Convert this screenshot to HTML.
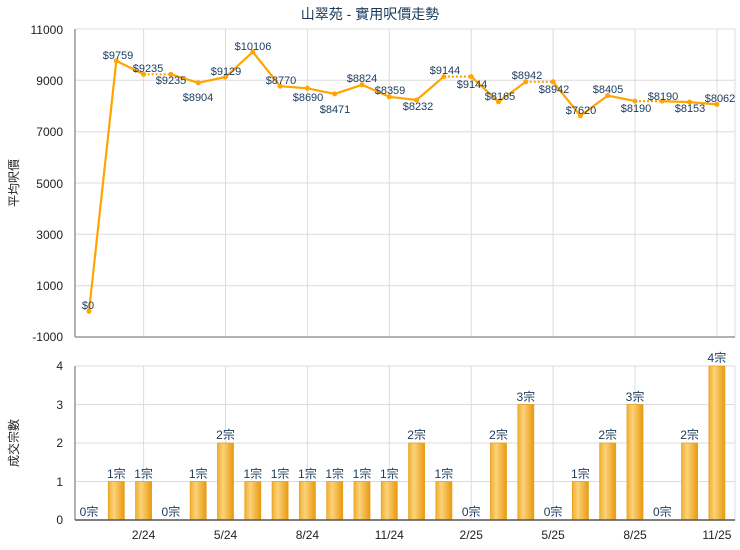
<!DOCTYPE html>
<html><head><meta charset="utf-8"><style>
body{margin:0;background:#fff}
svg{display:block;font-family:"Liberation Sans","Noto Sans CJK TC",sans-serif}
.g{stroke:#dcdcdc;stroke-width:1}
.t{font-size:12px;fill:#222}
.l{font-size:11px;fill:#1a3a5c;text-anchor:middle}
.b{font-size:12px;fill:#1a3a5c;text-anchor:middle}
</style></head><body>
<svg width="740" height="550" viewBox="0 0 740 550">
<defs>
<linearGradient id="bg" x1="0" x2="1" y1="0" y2="0">
<stop offset="0" stop-color="#f0b030"/><stop offset="0.35" stop-color="#fcd27a"/><stop offset="1" stop-color="#e89a10"/>
</linearGradient>
</defs>
<text x="370" y="19" text-anchor="middle" style="font-size:14px;fill:#1a3a5c">山翠苑 - 實用呎價走勢</text>
<!-- top grid -->
<g class="g">
<line x1="75" y1="29" x2="735" y2="29"/><line x1="75" y1="80.3" x2="735" y2="80.3"/>
<line x1="75" y1="131.7" x2="735" y2="131.7"/><line x1="75" y1="183" x2="735" y2="183"/>
<line x1="75" y1="234.3" x2="735" y2="234.3"/><line x1="75" y1="285.7" x2="735" y2="285.7"/>
<line x1="143.6" y1="29" x2="143.6" y2="337"/><line x1="225.5" y1="29" x2="225.5" y2="337"/>
<line x1="307.4" y1="29" x2="307.4" y2="337"/><line x1="389.3" y1="29" x2="389.3" y2="337"/>
<line x1="471.2" y1="29" x2="471.2" y2="337"/><line x1="553.1" y1="29" x2="553.1" y2="337"/>
<line x1="635" y1="29" x2="635" y2="337"/><line x1="716.9" y1="29" x2="716.9" y2="337"/>
<line x1="735" y1="29" x2="735" y2="337"/>
</g>
<line x1="75" y1="29" x2="75" y2="337" stroke="#999" stroke-width="1.5"/>
<line x1="75" y1="337" x2="735" y2="337" stroke="#999" stroke-width="1.5"/>
<g class="t" text-anchor="end">
<text x="63" y="34">11000</text><text x="63" y="85">9000</text><text x="63" y="136">7000</text>
<text x="63" y="188">5000</text><text x="63" y="239">3000</text><text x="63" y="290">1000</text><text x="63" y="341">-1000</text>
</g>
<text transform="translate(18,183) rotate(-90)" text-anchor="middle" class="t">平均呎價</text>
<!-- line -->
<g fill="none" stroke="#ffa500" stroke-width="2.2" stroke-linejoin="round">
<polyline points="89,311.3 116.3,60.9 143.6,74.3"/>
<polyline points="170.9,74.3 198.2,82.8 225.5,77 252.8,51.9 280.1,86.2 307.4,88.3 334.7,93.9 362,84.8 389.3,96.8 416.6,100 443.9,76.6"/>
<polyline points="471.2,76.6 498.5,101.8 525.8,81.8"/>
<polyline points="553.1,81.8 580.4,115.8 607.7,95.6 635,101.1"/>
<polyline points="662.3,101.1 689.6,102.1 716.9,104.4"/>
</g>
<g fill="none" stroke="#ffa500" stroke-width="2.2" stroke-dasharray="2,2">
<line x1="143.6" y1="74.3" x2="170.9" y2="74.3"/><line x1="443.9" y1="76.6" x2="471.2" y2="76.6"/>
<line x1="525.8" y1="81.8" x2="553.1" y2="81.8"/><line x1="635" y1="101.1" x2="662.3" y2="101.1"/>
</g>
<g fill="#ffa500">
<circle cx="89" cy="311.3" r="2.5"/><circle cx="116.3" cy="60.9" r="2.5"/><circle cx="143.6" cy="74.3" r="2.5"/><circle cx="170.9" cy="74.3" r="2.5"/><circle cx="198.2" cy="82.8" r="2.5"/><circle cx="225.5" cy="77" r="2.5"/><circle cx="252.8" cy="51.9" r="2.5"/><circle cx="280.1" cy="86.2" r="2.5"/><circle cx="307.4" cy="88.3" r="2.5"/><circle cx="334.7" cy="93.9" r="2.5"/><circle cx="362" cy="84.8" r="2.5"/><circle cx="389.3" cy="96.8" r="2.5"/><circle cx="416.6" cy="100" r="2.5"/><circle cx="443.9" cy="76.6" r="2.5"/><circle cx="471.2" cy="76.6" r="2.5"/><circle cx="498.5" cy="101.8" r="2.5"/><circle cx="525.8" cy="81.8" r="2.5"/><circle cx="553.1" cy="81.8" r="2.5"/><circle cx="580.4" cy="115.8" r="2.5"/><circle cx="607.7" cy="95.6" r="2.5"/><circle cx="635" cy="101.1" r="2.5"/><circle cx="662.3" cy="101.1" r="2.5"/><circle cx="689.6" cy="102.1" r="2.5"/><circle cx="716.9" cy="104.4" r="2.5"/>
</g>
<g class="l">
<text x="88" y="309">$0</text><text x="118" y="59">$9759</text><text x="148" y="72">$9235</text><text x="171" y="84">$9235</text>
<text x="198" y="101">$8904</text><text x="226" y="75">$9129</text><text x="253" y="50">$10106</text><text x="281" y="84">$8770</text>
<text x="308" y="101">$8690</text><text x="335" y="113">$8471</text><text x="362" y="82">$8824</text><text x="390" y="94">$8359</text>
<text x="418" y="110">$8232</text><text x="445" y="74">$9144</text><text x="472" y="88">$9144</text><text x="500" y="100">$8165</text>
<text x="527" y="79">$8942</text><text x="554" y="93">$8942</text><text x="581" y="114">$7620</text><text x="608" y="93">$8405</text>
<text x="636" y="112">$8190</text><text x="663" y="100">$8190</text><text x="690" y="112">$8153</text><text x="720" y="102">$8062</text>
</g>
<!-- bottom grid -->
<g class="g">
<line x1="75" y1="366" x2="735" y2="366"/><line x1="75" y1="404.5" x2="735" y2="404.5"/>
<line x1="75" y1="443" x2="735" y2="443"/><line x1="75" y1="481.5" x2="735" y2="481.5"/>
<line x1="143.6" y1="366" x2="143.6" y2="520"/><line x1="225.5" y1="366" x2="225.5" y2="520"/>
<line x1="307.4" y1="366" x2="307.4" y2="520"/><line x1="389.3" y1="366" x2="389.3" y2="520"/>
<line x1="471.2" y1="366" x2="471.2" y2="520"/><line x1="553.1" y1="366" x2="553.1" y2="520"/>
<line x1="635" y1="366" x2="635" y2="520"/><line x1="716.9" y1="366" x2="716.9" y2="520"/>
<line x1="735" y1="366" x2="735" y2="520"/>
</g>
<g class="t" text-anchor="end">
<text x="63" y="370">4</text><text x="63" y="409">3</text><text x="63" y="447">2</text><text x="63" y="486">1</text><text x="63" y="524">0</text>
</g>
<text transform="translate(18,443) rotate(-90)" text-anchor="middle" class="t">成交宗數</text>
<g fill="url(#bg)" stroke="#e8a020" stroke-width="0.8">
<rect x="108.3" y="481.5" width="16" height="38.5"/><rect x="135.6" y="481.5" width="16" height="38.5"/>
<rect x="190.2" y="481.5" width="16" height="38.5"/><rect x="217.5" y="443" width="16" height="77"/>
<rect x="244.8" y="481.5" width="16" height="38.5"/><rect x="272.1" y="481.5" width="16" height="38.5"/>
<rect x="299.4" y="481.5" width="16" height="38.5"/><rect x="326.7" y="481.5" width="16" height="38.5"/>
<rect x="354" y="481.5" width="16" height="38.5"/><rect x="381.3" y="481.5" width="16" height="38.5"/>
<rect x="408.6" y="443" width="16" height="77"/><rect x="435.9" y="481.5" width="16" height="38.5"/>
<rect x="490.5" y="443" width="16" height="77"/><rect x="517.8" y="404.5" width="16" height="115.5"/>
<rect x="572.4" y="481.5" width="16" height="38.5"/><rect x="599.7" y="443" width="16" height="77"/>
<rect x="627" y="404.5" width="16" height="115.5"/><rect x="681.6" y="443" width="16" height="77"/>
<rect x="708.9" y="366" width="16" height="154"/>
</g>
<line x1="75" y1="366" x2="75" y2="520" stroke="#999" stroke-width="1.5"/>
<line x1="75" y1="520" x2="735" y2="520" stroke="#555" stroke-width="1.5"/>
<g class="b">
<text x="89" y="516">0宗</text><text x="116.3" y="478">1宗</text><text x="143.6" y="478">1宗</text><text x="170.9" y="516">0宗</text>
<text x="198.2" y="478">1宗</text><text x="225.5" y="439">2宗</text><text x="252.8" y="478">1宗</text><text x="280.1" y="478">1宗</text>
<text x="307.4" y="478">1宗</text><text x="334.7" y="478">1宗</text><text x="362" y="478">1宗</text><text x="389.3" y="478">1宗</text>
<text x="416.6" y="439">2宗</text><text x="443.9" y="478">1宗</text><text x="471.2" y="516">0宗</text><text x="498.5" y="439">2宗</text>
<text x="525.8" y="401">3宗</text><text x="553.1" y="516">0宗</text><text x="580.4" y="478">1宗</text><text x="607.7" y="439">2宗</text>
<text x="635" y="401">3宗</text><text x="662.3" y="516">0宗</text><text x="689.6" y="439">2宗</text><text x="716.9" y="362">4宗</text>
</g>
<g class="t" text-anchor="middle">
<text x="143.6" y="539">2/24</text><text x="225.5" y="539">5/24</text><text x="307.4" y="539">8/24</text><text x="389.3" y="539">11/24</text>
<text x="471.2" y="539">2/25</text><text x="553.1" y="539">5/25</text><text x="635" y="539">8/25</text><text x="716.9" y="539">11/25</text>
</g>
</svg>
</body></html>
